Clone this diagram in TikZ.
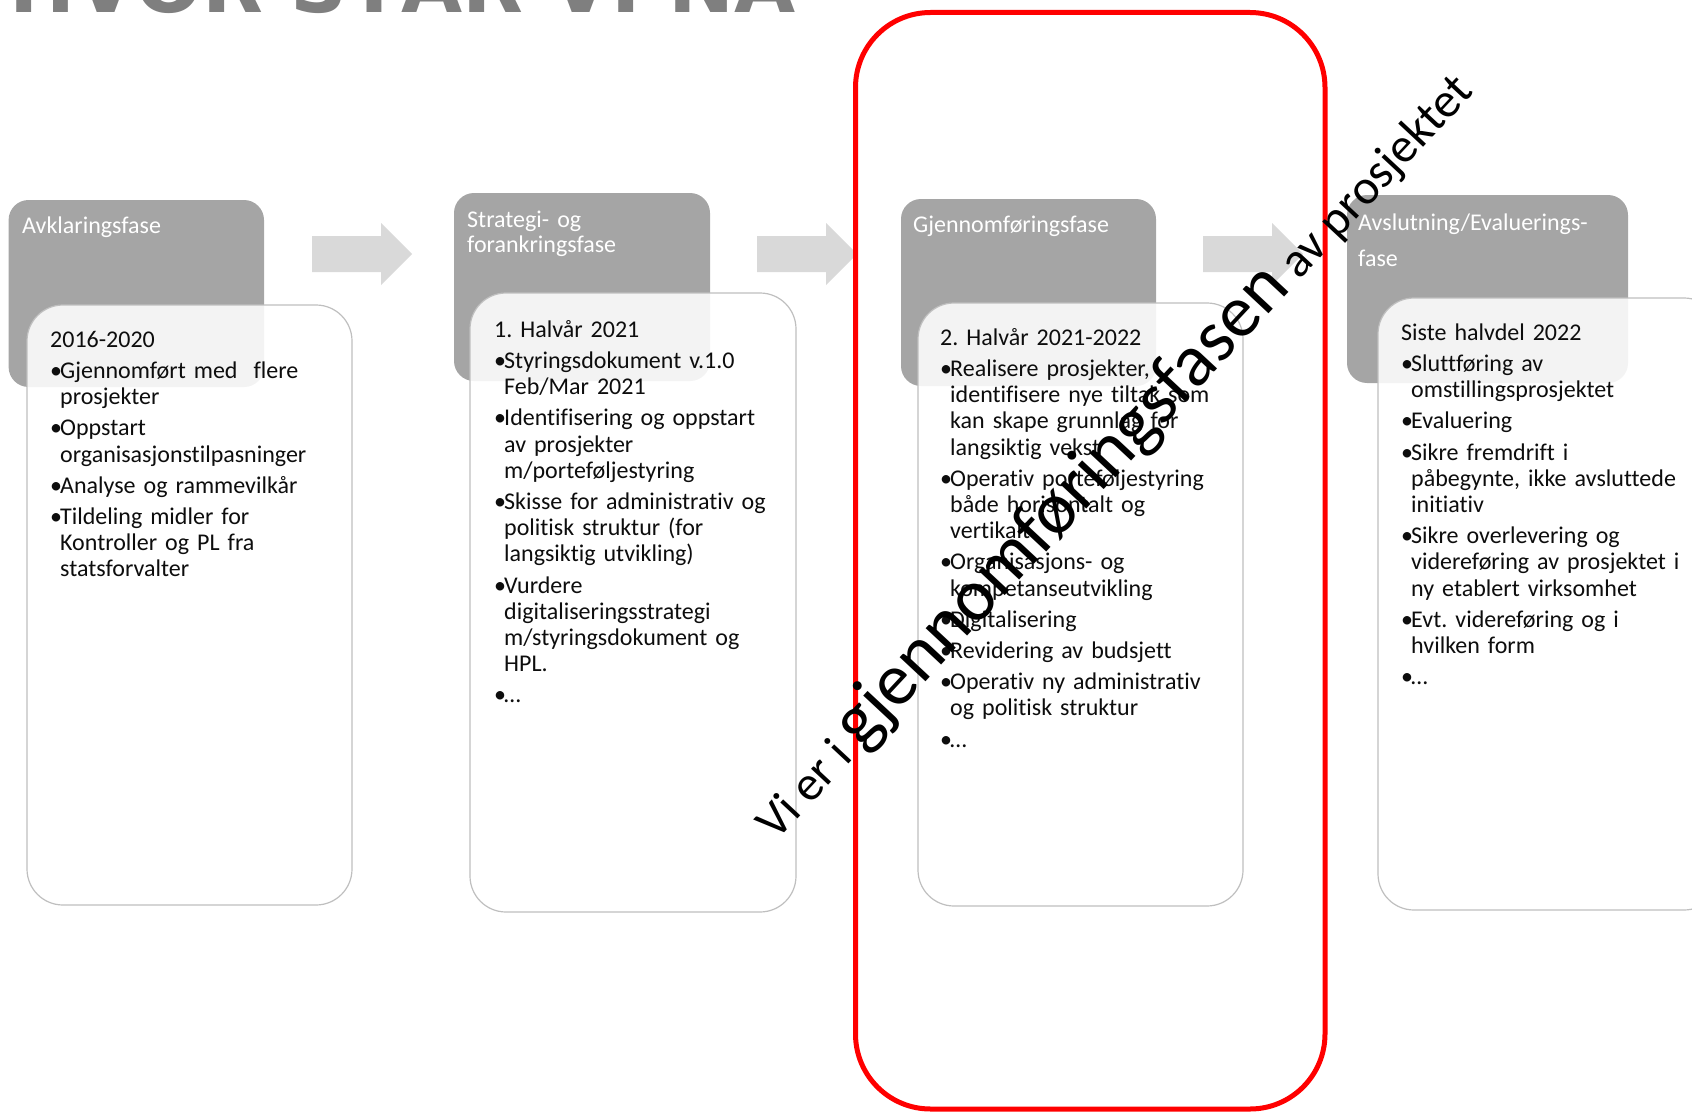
\documentclass[tikz,border=0pt]{standalone}
\usepackage{fontspec}
\setmainfont{Carlito}[Ligatures={TeX,NoCommon}]
\newfontfamily\titlefont{DejaVu Sans}
\definecolor{hdrgray}{HTML}{A5A5A5}
\definecolor{arrgray}{HTML}{D9D9D9}
\definecolor{bordgray}{HTML}{BFBFBF}
\definecolor{titlegray}{HTML}{7F7F7F}
\frenchspacing
\newcommand\bi[1]{\par\hangindent=10pt\hangafter=1\makebox[10pt][l]{•}#1\par}
\newcommand\firstl[1]{\rule{0pt}{20pt}#1}
\tikzset{
  hdrbox/.style={fill=hdrgray, rounded corners=20pt},
  bodybox/.style={fill=white, fill opacity=0.87, draw=bordgray, line width=1.2pt, rounded corners=36pt},
  blockarrow/.style={fill=arrgray},
  blockarr/.pic={\path[blockarrow] (0,-18) -- (69,-18) -- (69,-31) -- (100,0) -- (69,31) -- (69,18) -- (0,18) -- cycle;},
  hdrtext/.style={anchor=north west, inner sep=0pt, text=white, text width=300pt, font=\fontsize{24}{25}\selectfont, execute at begin node={\parindent=0pt\relax}},
  bodytext/.style={anchor=north west, inner sep=0pt, text=black!95, text width=330pt, font=\fontsize{24}{26.2}\selectfont, execute at begin node={\parindent=0pt\parskip=5pt\relax}},
  redframe/.style={draw=red, line width=5pt, rounded corners=75pt},
  rottext/.style={inner sep=0pt, text=black, rotate=47, anchor=base west},
}
\begin{document}
\begin{tikzpicture}[x=1pt, y=-1pt]
\useasboundingbox (0,0) rectangle (1692,1113);
% header boxes
\path[hdrbox] (8.6,200) rectangle (264,387);
\path[hdrbox] (454,193) rectangle (710,381);
\path[hdrbox] (901,199) rectangle (1156,386);
\path[hdrbox] (1347,195) rectangle (1628,383);
% body boxes
\path[bodybox] (27,305) rectangle (352,905);
\path[bodybox] (470,293) rectangle (796,912);
\path[bodybox] (918,303) rectangle (1243,906);
\path[bodybox] (1378,298) rectangle (1720,910);
% arrows
\pic at (312,254) {blockarr};
\pic at (757,254) {blockarr};
\pic at (1203,254) {blockarr};
% header texts
\node[hdrtext] (h1) at (22,213) {\firstl{Avklaringsfase}};
\node[hdrtext] (h2) at (467,207) {\firstl{Strategi- og}\newline forankringsfase};
\node[hdrtext] (h3) at (913,212) {\firstl{Gjennomføringsfase}};
\node[hdrtext, font=\fontsize{24}{36}\selectfont] (h4) at (1358,210) {\firstl{Avslutning/Evaluerings-}\newline fase};
% body texts
\node[bodytext] (t1) at (50,327) {\firstl{2016-2020}
\bi{Gjennomført med~ flere\newline prosjekter}
\bi{Oppstart\newline organisasjonstilpasninger}
\bi{Analyse og rammevilkår}
\bi{Tildeling midler for\newline Kontroller og PL fra\newline statsforvalter}};
\node[bodytext] (t2) at (494,317) {\firstl{1. Halvår 2021}
\bi{Styringsdokument v.1.0\newline Feb/Mar 2021}
\bi{Identifisering og oppstart\newline av prosjekter\newline m/porteføljestyring}
\bi{Skisse for administrativ og\newline politisk struktur (for\newline langsiktig utvikling)}
\bi{Vurdere\newline digitaliseringsstrategi\newline m/styringsdokument og\newline HPL.}
\bi{…}};
\node[bodytext] (t3) at (940,325) {\firstl{2. Halvår 2021-2022}
\bi{Realisere prosjekter,\newline identifisere nye tiltak som\newline kan skape grunnlag for\newline langsiktig vekst}
\bi{Operativ porteføljestyring\newline både horisontalt og\newline vertikalt}
\bi{Organisasjons- og\newline kompetanseutvikling}
\bi{Digitalisering}
\bi{Revidering av budsjett}
\bi{Operativ ny administrativ\newline og politisk struktur}
\bi{…}};
\node[bodytext] (t4) at (1401,320) {\firstl{Siste halvdel 2022}
\bi{Sluttføring av\newline omstillingsprosjektet}
\bi{Evaluering}
\bi{Sikre fremdrift i\newline påbegynte, ikke avsluttede\newline initiativ}
\bi{Sikre overlevering og\newline videreføring av prosjektet i\newline ny etablert virksomhet}
\bi{Evt. videreføring og i\newline hvilken form}
\bi{…}};
% red frame
\draw[redframe] (855.5,12.5) rectangle (1325,1109);
% rotated statement
\node[rottext] (motto) at (776,842) {{\fontsize{49}{49}\selectfont Vi er i }{\fontsize{74}{74}\selectfont gjennomføringsfasen}{\fontsize{49}{49}\selectfont\ av prosjektet}};
% title
\node[anchor=base west, inner sep=0pt, text=titlegray, font=\titlefont\bfseries\fontsize{79}{79}\selectfont] (title) at (9,13) {HVOR STÅR VI NÅ};
\end{tikzpicture}
\end{document}
